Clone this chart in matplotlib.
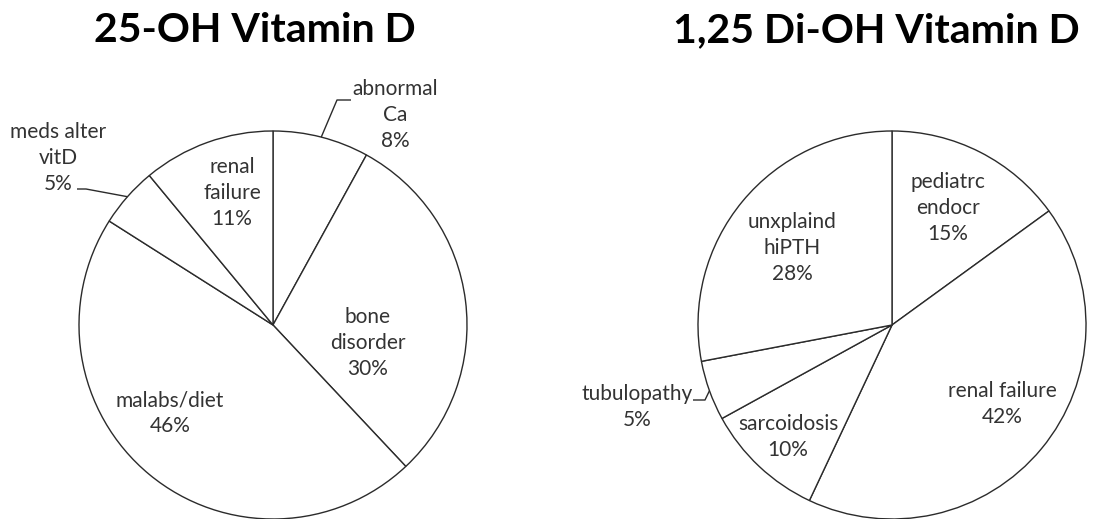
import numpy as np
import matplotlib
matplotlib.use("Agg")
import matplotlib.pyplot as plt

# 25-OH vitamin D: reasons for ordering (percent)
calcidiol_labels = ["abnormal\nCa", "bone\ndisorder", "malabs/diet", "meds alter\nvitD", "renal\nfailure"]
calcidiol_pct = [8, 30, 46, 5, 11]

# 1,25 di-OH vitamin D: reasons for ordering (percent)
calcitriol_labels = ["pediatrc\nendocr", "renal failure", "sarcoidosis", "tubulopathy", "unxplaind\nhiPTH"]
calcitriol_pct = [15, 42, 10, 5, 28]

W, H = 1097, 519
FONT = ["Lato", "DejaVu Sans"]
EDGE = "#2b2b2b"
TXT = "#333333"

fig = plt.figure(figsize=(W / 100, H / 100), dpi=100)
ax = fig.add_axes([0, 0, 1, 1])
ax.set_xlim(0, W)
ax.set_ylim(0, H)
ax.set_aspect("equal")
ax.axis("off")

R = 194


def draw_pie(center, pct, labels, label_pos, leaders):
    cx, cy = center
    ax.pie(pct, center=(cx, H - cy), radius=R, startangle=90, counterclock=False,
           colors=["white"] * len(pct),
           wedgeprops=dict(edgecolor=EDGE, linewidth=1.0), normalize=True,
           frame=True)
    total = float(sum(pct))
    start = 0.0
    for i, (lab, p) in enumerate(zip(labels, pct)):
        mid = start + p / total * 360.0 / 2
        start += p / total * 360.0
        tx, ty = label_pos[i]
        ax.text(tx, H - ty, f"{lab}\n{p}%", ha="center", va="center",
                fontsize=15, family=FONT, color=TXT, linespacing=1.35)
        if i in leaders:
            # leader from the wedge rim through elbow points to the label
            rad = np.deg2rad(mid)
            ex, ey = cx + R * np.sin(rad), cy - R * np.cos(rad)
            pts = [(ex, ey)] + leaders[i]
            xs = [q[0] for q in pts]
            ys = [H - q[1] for q in pts]
            ax.plot(xs, ys, color=EDGE, lw=1.0, solid_capstyle="butt")


draw_pie((273, 325), calcidiol_pct, calcidiol_labels,
         [(395, 115), (368, 343), (170, 413), (58, 158), (232, 193)],
         {0: [(337, 100), (351, 100)], 3: [(86, 189), (77, 189)]})

draw_pie((892, 325), calcitriol_pct, calcitriol_labels,
         [(948, 208), (1002, 404), (788, 437), (637, 407), (792, 248)],
         {3: [(705, 400), (693, 400)]})

ax.set_xlim(0, W)
ax.set_ylim(0, H)
ax.axis("off")

fig.text(255 / W, 1 - 31 / H, "25-OH Vitamin D", ha="center", va="center",
         fontsize=29.5, fontweight="bold", family=FONT, color="black")
fig.text(876 / W, 1 - 31 / H, "1,25 Di-OH Vitamin D", ha="center", va="center",
         fontsize=29.5, fontweight="bold", family=FONT, color="black")

fig.savefig("out.png", dpi=100, facecolor="white")
